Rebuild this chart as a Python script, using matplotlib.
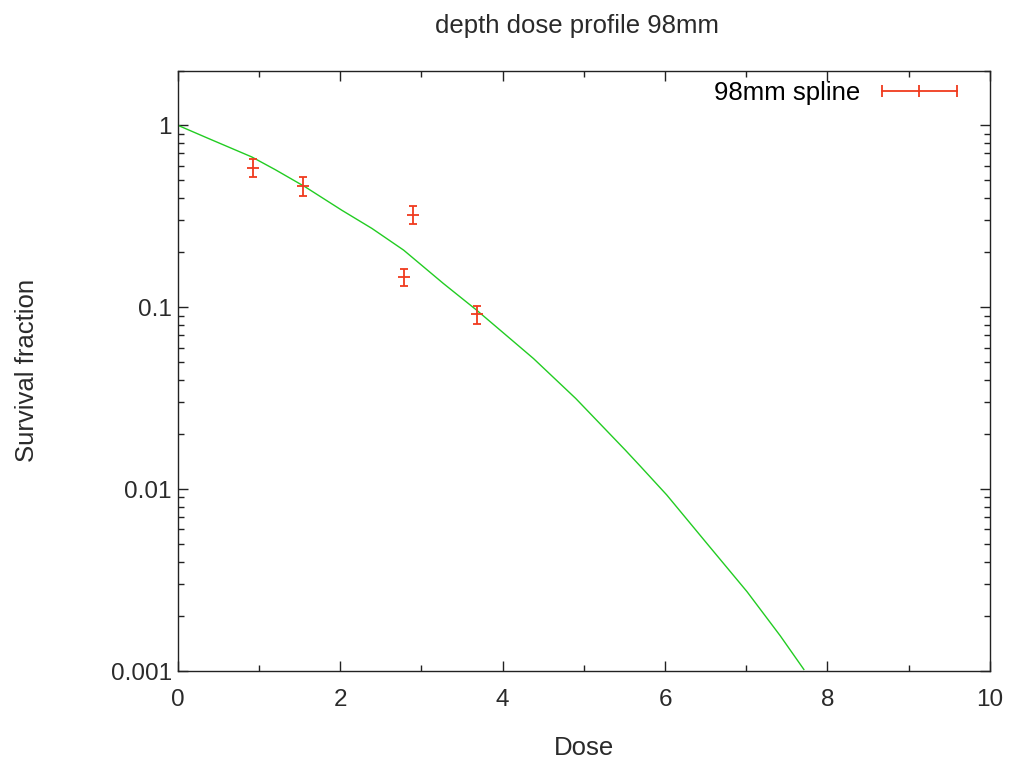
import numpy as np
import matplotlib
matplotlib.use("Agg")
import matplotlib.pyplot as plt
import matplotlib.ticker as mtick
from matplotlib.lines import Line2D

# measured points (dose, survival fraction, error)
dose = [0.93, 1.54, 2.79, 2.90, 3.68]
survival = [0.586, 0.464, 0.146, 0.323, 0.0915]
survival_err = [0.068, 0.053, 0.016, 0.037, 0.0105]

# fitted curve
curve_dose = [0.0, 0.38, 0.91, 1.20, 1.57, 2.02, 2.39, 2.78, 3.27, 3.68,
              4.09, 4.38, 4.90, 5.51, 5.70, 6.02, 6.52, 7.01, 7.42, 7.71]
curve_surv = [1.0, 0.845, 0.670, 0.570, 0.458, 0.341, 0.271, 0.206, 0.135,
              0.0963, 0.0673, 0.0522, 0.0315, 0.0164, 0.0133, 0.0093,
              0.0050, 0.00273, 0.00156, 0.00102]

red = "#f03a1e"
green = "#22cc22"
txt = "#2a2a2a"

plt.rcParams["font.family"] = ["Liberation Sans", "DejaVu Sans"]
plt.rcParams["font.size"] = 18.5

fig = plt.figure(figsize=(10.11, 7.62), dpi=100)
ax = fig.add_axes([0.176, 0.1194, 0.803, 0.788])

ax.plot(curve_dose, curve_surv, color=green, lw=1.0)
ax.errorbar(dose, survival, yerr=survival_err, fmt="_", color=red, ms=9,
            mew=1.3, elinewidth=1.3, capsize=3.2, capthick=1.3)

ax.set_yscale("log")
ax.set_xlim(0, 10)
ax.set_ylim(0.001, 2.0)
ax.xaxis.set_major_locator(mtick.MultipleLocator(2))
ax.xaxis.set_minor_locator(mtick.MultipleLocator(1))
ax.yaxis.set_major_locator(mtick.FixedLocator([0.001, 0.01, 0.1, 1]))
ax.yaxis.set_minor_locator(mtick.LogLocator(base=10, subs=np.arange(2, 10)))
ax.yaxis.set_minor_formatter(mtick.NullFormatter())
ax.yaxis.set_major_formatter(mtick.FuncFormatter(lambda v, p: f"{v:g}"))
ax.tick_params(which="both", direction="in", top=True, right=True,
               colors="#222222", labelcolor=txt, width=1.0, labelsize=17.5)
ax.tick_params(which="major", length=7)
ax.tick_params(which="minor", length=4)
ax.tick_params(axis="y", which="major", pad=4.3)
ax.tick_params(axis="x", which="major", pad=13)
for s in ax.spines.values():
    s.set_linewidth(1.0)
    s.set_color("#222222")

ax.set_title("depth dose profile 98mm", fontsize=18.5, pad=27, color=txt, x=0.492)
ax.set_xlabel("Dose", labelpad=18, color=txt)
ax.set_ylabel("Survival fraction", labelpad=52, color=txt)

handle = Line2D([], [], color=red, lw=1.3, marker="|", ms=8, mew=1.3)
ax.legend([handle], ["98mm spline"], loc="upper right",
          bbox_to_anchor=(0.969, 0.9825), numpoints=3,
          markerfirst=False, frameon=False, handlelength=3.52,
          borderaxespad=0, borderpad=0, handletextpad=0.56)

fig.savefig("out.png", dpi=100)
